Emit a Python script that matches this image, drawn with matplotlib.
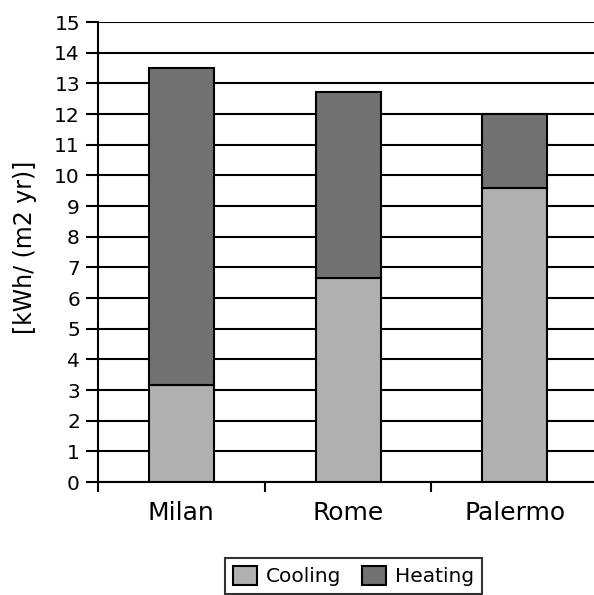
import matplotlib.pyplot as plt
import numpy as np

cities = ['Milan', 'Rome', 'Palermo']
cooling = [3.15, 6.65, 9.6]
heating = [10.35, 6.08, 2.4]

plt.rcParams['font.family'] = ['DejaVu Sans']

fig = plt.figure(figsize=(5.94, 5.95), dpi=100)
ax = fig.add_axes([98 / 594, 1 - 482 / 595, 500 / 594, 460 / 595])

x = np.arange(len(cities))
w = 0.39
ax.bar(x, cooling, w, color='#b0b0b0', edgecolor='black', linewidth=1.5,
       label='Cooling', zorder=3)
ax.bar(x, heating, w, bottom=cooling, color='#717171', edgecolor='black',
       linewidth=1.5, label='Heating', zorder=3)

ax.set_ylim(0, 15)
ax.set_xlim(-0.5, 2.5)
ax.set_yticks(range(16))
ax.yaxis.grid(True, color='black', linewidth=1.5, zorder=0)
ax.set_axisbelow(True)

ax.set_xticks(x)
ax.set_xticklabels(cities, fontsize=18)
ax.set_xticks([-0.5, 0.5, 1.5], minor=True)
ax.tick_params(axis='x', which='major', length=0, pad=14)
ax.tick_params(axis='x', which='minor', length=7, width=1.5, direction='out')
ax.tick_params(axis='y', length=9, width=1.5, labelsize=14.5, pad=4)

for s in ['top', 'right']:
    ax.spines[s].set_visible(False)
ax.spines['left'].set_linewidth(1.5)
ax.spines['bottom'].set_linewidth(1.5)

ax.set_ylabel('[kWh/ (m2 yr)]', fontsize=17)
ax.yaxis.set_label_coords(-0.122, 0.51)

leg = fig.legend(loc='center', bbox_to_anchor=(0.595, 0.032), ncol=2,
                 fontsize=14.5, frameon=True, fancybox=False, edgecolor='black',
                 handlelength=1.2, handleheight=1.1, handletextpad=0.45,
                 columnspacing=1.0, borderpad=0.4)
leg.get_frame().set_linewidth(1.5)

fig.savefig('out.png', dpi=100)
